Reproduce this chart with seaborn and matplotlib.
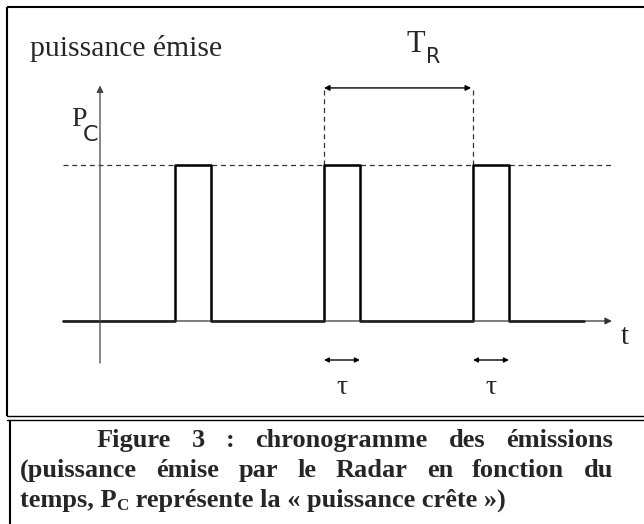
import numpy as np
import pandas as pd
import matplotlib
matplotlib.use("Agg")
import matplotlib.pyplot as plt
import seaborn as sns

# ---- data (time in units of tau, power in units of P_C) ----
pulse_starts = [2.08, 6.22, 10.36]
tau = 1.0
P_C = 1.0
t_start = -1.03
t_end = 13.44
axis_t_end = 14.22
axis_p_range = [-0.27, 1.51]
TR_level = 1.494
caption_lines = [
    ["Figure", "3", ":", "chronogramme", "des", "émissions"],
    ["(puissance", "émise", "par", "le", "Radar", "en", "fonction", "du"],
]
caption_last = ["temps, P", "C", " représente la « puissance crête »)"]

# build signal from the arrays
sig_t = [t_start]
sig_p = [0.0]
for s in pulse_starts:
    sig_t += [s, s, s + tau, s + tau]
    sig_p += [0.0, P_C, P_C, 0.0]
sig_t.append(t_end)
sig_p.append(0.0)
df = pd.DataFrame({"t": sig_t, "p": sig_p})

sns.set_theme(style="white")
plt.rcParams["font.family"] = ["Liberation Serif", "DejaVu Serif"]

fig = plt.figure(figsize=(6.44, 5.24), dpi=100)
PX = 36.0   # px per time unit
PY = 156.0  # px per power unit
ax = fig.add_axes([0, 0, 1, 1])
ax.set_xlim(-100 / PX, 544 / PX)
ax.set_ylim(-203 / PY, 321 / PY)
ax.axis("off")

ov = fig.add_axes([0, 0, 1, 1], facecolor="none")
ov.set_xlim(0, 644)
ov.set_ylim(524, 0)
ov.axis("off")

# ---- frames ----
ov.plot([7, 644], [7, 7], color="black", lw=1.5, solid_capstyle="butt")
ov.plot([7, 7], [7, 416], color="black", lw=1.5, solid_capstyle="butt")
ov.plot([7, 644], [416, 416], color="black", lw=1.0)
ov.plot([7, 644], [419.5, 419.5], color="black", lw=1.0)
ov.plot([10, 10], [420, 524], color="black", lw=1.5, solid_capstyle="butt")

# ---- axes of the diagram ----
ax.annotate("", xy=(axis_t_end, 0), xytext=(t_start, 0),
            arrowprops=dict(arrowstyle="-|>", color="#333333", lw=0.9,
                            mutation_scale=10, shrinkA=0, shrinkB=0))
ax.annotate("", xy=(0, axis_p_range[1]), xytext=(0, axis_p_range[0]),
            arrowprops=dict(arrowstyle="-|>", color="#444444", lw=0.9,
                            mutation_scale=10, shrinkA=0, shrinkB=0))

# P_C dashed level
ax.plot([t_start, axis_t_end + 0.03], [P_C, P_C], color="#333333", lw=0.9,
        dashes=(4, 3))
# dashed verticals for T_R
for s in pulse_starts[1:]:
    ax.plot([s, s], [P_C, TR_level], color="#333333", lw=0.9, dashes=(4, 3))

# signal
sns.lineplot(data=df, x="t", y="p", sort=False, estimator=None, ax=ax,
             color="black", lw=1.8)
ax.axis("off")

# T_R arrow
ax.annotate("", xy=(pulse_starts[2] - 0.05, TR_level), xytext=(pulse_starts[1], TR_level),
            arrowprops=dict(arrowstyle="<|-|>", color="black", lw=1.0,
                            mutation_scale=8, shrinkA=0, shrinkB=0))
# tau arrows
for s in pulse_starts[1:]:
    ax.annotate("", xy=(s + tau, -39 / PY), xytext=(s, -39 / PY),
                arrowprops=dict(arrowstyle="<|-|>", color="black", lw=1.0,
                                mutation_scale=7, shrinkA=0, shrinkB=0))
    ax.text(s + tau / 2, -66 / PY, "τ", fontsize=20, ha="center", va="center")

# labels
ov.text(30, 48, "puissance émise", fontsize=21.3, ha="left", va="center")
ov.text(407, 52, "T", fontsize=22, ha="left", va="baseline")
ov.text(426, 63, "R", fontsize=15, ha="left", va="baseline", family="DejaVu Sans")
ov.text(71, 126, "P", fontsize=20, ha="left", va="baseline")
ov.text(83, 141, "C", fontsize=16, ha="left", va="baseline", family="DejaVu Sans")
ov.text(625, 337, "t", fontsize=21, ha="center", va="center")

# ---- caption ----
renderer = fig.canvas.get_renderer()
CFS = 19


def justify(words, x0, x1, ybase):
    texts = [ov.text(0, ybase, w, fontsize=CFS, fontweight="bold",
                     ha="left", va="baseline") for w in words]
    widths = [t.get_window_extent(renderer).width for t in texts]
    gap = (x1 - x0 - sum(widths)) / (len(words) - 1)
    x = x0
    for t, w in zip(texts, widths):
        t.set_x(x)
        x += w + gap


justify(caption_lines[0], 97, 613, 447)
justify(caption_lines[1], 20, 613, 477)

x = 20
sizes = [CFS, CFS * 0.65, CFS]
offs = [0, 3, 0]
for w, fs, dy in zip(caption_last, sizes, offs):
    t = ov.text(x, 507 + dy, w, fontsize=fs, fontweight="bold",
                ha="left", va="baseline")
    x += t.get_window_extent(renderer).width

fig.savefig("out.png", dpi=100)
